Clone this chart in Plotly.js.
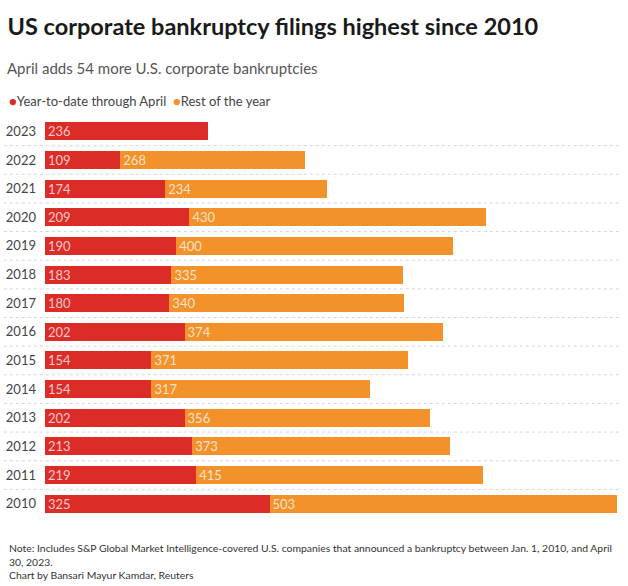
<!DOCTYPE html>
<html><head><meta charset="utf-8">
<script src="https://cdn.plot.ly/plotly-3.0.1.min.js"></script>
<style>html,body{margin:0;padding:0;background:#fff}#chart{width:628px;height:586px}</style>
</head><body><div id="chart"></div>
<script>
const years = ["2023","2022","2021","2020","2019","2018","2017","2016","2015","2014","2013","2012","2011","2010"];
const ytd = [236,109,174,209,190,183,180,202,154,154,202,213,219,325];
const rest = [null,268,234,430,400,335,340,374,371,317,356,373,415,503];
const seriesNames = ["Year-to-date through April","Rest of the year"];
const colors = ["#dc2c27","#f3922b"];
const FONT = "Lato, 'Open Sans', sans-serif";

const labelFont = {color:'rgba(255,255,255,0.75)', size:13, family:FONT};
const traces = [
  {type:'bar', orientation:'h', y:years, x:ytd, name:seriesNames[0],
   marker:{color:colors[0]}, text:ytd.map(v=>v==null?'':String(v)), textposition:'inside',
   insidetextanchor:'start', insidetextfont:labelFont, constraintext:'none',
   width:0.63, hoverinfo:'none'},
  {type:'bar', orientation:'h', y:years, x:rest, name:seriesNames[1],
   marker:{color:colors[1]}, text:rest.map(v=>v==null?'':String(v)), textposition:'inside',
   insidetextanchor:'start', insidetextfont:labelFont, constraintext:'none',
   width:0.63, hoverinfo:'none'}
];

const shapes = [];
for (let i=0;i<years.length-1;i++){
  shapes.push({type:'line', xref:'paper', yref:'y', x0:-0.072, x1:1.005, y0:i+0.5, y1:i+0.5,
    line:{color:'#d6d6d6', width:1, dash:'dot'}, layer:'below'});
}

const annotations = [
  {xref:'paper', yref:'paper', x:-0.07, y:1.122, xanchor:'left', yanchor:'middle', showarrow:false,
   text:"April adds 54 more U.S. corporate bankruptcies", font:{family:FONT, size:15, color:'#555'}},
  {xref:'paper', yref:'paper', x:-0.066, y:1.04, xanchor:'left', yanchor:'middle', showarrow:false,
   text:"<span style='color:"+colors[0]+"'>●</span>"+seriesNames[0]+"  <span style='color:"+colors[1]+"'>●</span>"+seriesNames[1],
   font:{family:FONT, size:13, color:'#444'}},
  {xref:'paper', yref:'paper', x:-0.066, y:-0.056, xanchor:'left', yanchor:'top', showarrow:false, align:'left',
   text:"Note: Includes S&P Global Market Intelligence-covered U.S. companies that announced a bankruptcy between Jan. 1, 2010, and April<br>30, 2023.<br>Chart by Bansari Mayur Kamdar, Reuters",
   font:{family:FONT, size:10.4, color:'#333'}}
];

const layout = {
  width:628, height:586,
  margin:{l:45, r:11, t:117, b:68},
  paper_bgcolor:'#fff', plot_bgcolor:'#fff',
  barmode:'stack',
  showlegend:false,
  font:{family:FONT},
  title:{text:"<b>US corporate bankruptcy filings highest since 2010</b>",
    x:0.012, xanchor:'left', y:0.968, yanchor:'top', font:{family:FONT, size:23.5, color:'#1a1a1a'}},
  xaxis:{range:[0,828], visible:false, fixedrange:true},
  yaxis:{type:'category', categoryorder:'array', categoryarray:years, autorange:'reversed',
    showgrid:false, zeroline:false, showline:false, ticks:'', ticklabelstandoff:8,
    tickfont:{family:FONT, size:13, color:'#444'}},
  shapes:shapes,
  annotations:annotations
};
Plotly.newPlot('chart', traces, layout, {displayModeBar:false, staticPlot:true});
</script></body></html>
